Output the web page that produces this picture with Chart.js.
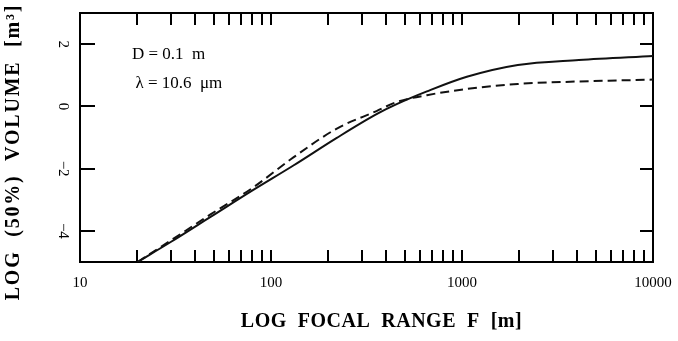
<!DOCTYPE html>
<html>
<head>
<meta charset="utf-8">
<style>
  html, body { margin: 0; padding: 0; background: #ffffff; }
  #wrap { width: 678px; height: 341px; }
</style>
<script src="https://cdn.jsdelivr.net/npm/chart.js@4.4.1/dist/chart.umd.min.js"></script>
</head>
<body>
<div id="wrap"><canvas id="chart" width="678" height="341"></canvas></div>
<script>
// Focal range F [m] and log10 of the 50% volume [m^3] for the two curves
const focalRange      = [20, 30, 48, 80, 131, 220, 357, 455, 655, 1060, 1960, 4090, 10000];
const logVolumeSolid  = [-5.0, -4.35, -3.56, -2.70, -1.90, -1.02, -0.25, 0.07, 0.48, 0.95, 1.33, 1.49, 1.62];
const logVolumeDashed = [-5.0, -4.30, -3.48, -2.62, -1.64, -0.72, -0.15, 0.14, 0.36, 0.56, 0.72, 0.80, 0.86];

// Axis ticks
const xTickValues = [10, 20, 30, 40, 50, 60, 70, 80, 90,
                     100, 200, 300, 400, 500, 600, 700, 800, 900,
                     1000, 2000, 3000, 4000, 5000, 6000, 7000, 8000, 9000, 10000];
const xTickLabels = ['10', '100', '1000', '10000'];
const yTickValues = [-4, -2, 0, 2];

// Axis titles
const xTitle = 'LOG  FOCAL  RANGE  F  [m]';
const yTitle = 'LOG  (50%)  VOLUME  [m\u00B3]';

// Parameter notes placed in data coordinates (F, log volume)
const noteTexts = ['D = 0.1  m', '\u03BB = 10.6  \u03BCm'];
const noteF     = [18.7, 19.5];
const noteV     = [1.65, 0.73];

const serif = "'Liberation Serif', 'Times New Roman', serif";

function fixBox(w, h) {
  return s => {
    if (w !== null) s.width = w;
    if (h !== null) s.height = h;
    s.paddingLeft = 0; s.paddingRight = 0; s.paddingTop = 0; s.paddingBottom = 0;
  };
}
function useTicks(values) {
  return s => { s.ticks = values.map(v => ({ value: v })); };
}

const gridStyle = (len) => ({
  drawOnChartArea: false,
  drawTicks: true,
  tickLength: len,
  color: '#000',
  lineWidth: 2
});
const borderStyle = { display: true, color: '#000', width: 2 };

// Parameter notes inside the plot and the letter-spaced axis titles
const textPlugin = {
  id: 'texts',
  afterDatasetsDraw(chart) {
    const { ctx, scales, chartArea } = chart;
    ctx.save();
    ctx.font = '17px ' + serif;
    ctx.fillStyle = '#000';
    ctx.textBaseline = 'middle';
    ctx.textAlign = 'left';
    noteTexts.forEach((t, i) => {
      ctx.fillText(t, scales.x.getPixelForValue(noteF[i]), scales.y.getPixelForValue(noteV[i]));
    });
    ctx.restore();

    // horizontal axis title
    ctx.save();
    ctx.font = 'bold 20px ' + serif;
    ctx.fillStyle = '#000';
    ctx.textBaseline = 'middle';
    ctx.textAlign = 'center';
    if ('letterSpacing' in ctx) ctx.letterSpacing = '0.5px';
    ctx.fillText(xTitle, (chartArea.left + chartArea.right) / 2 + 15, scales.x.bottom - 19);
    ctx.restore();

    // vertical axis title
    ctx.save();
    ctx.font = 'bold 20px ' + serif;
    ctx.fillStyle = '#000';
    ctx.textBaseline = 'middle';
    ctx.textAlign = 'center';
    if ('letterSpacing' in ctx) ctx.letterSpacing = '1.8px';
    ctx.translate(scales.y.left + 14, 152);
    ctx.rotate(-Math.PI / 2);
    ctx.fillText(yTitle, 0, 0);
    ctx.restore();
  }
};

new Chart(document.getElementById('chart'), {
  type: 'line',
  data: {
    datasets: [
      {
        data: focalRange.map((f, i) => ({ x: f, y: logVolumeSolid[i] })),
        borderColor: '#111',
        borderWidth: 2,
        pointRadius: 0,
        cubicInterpolationMode: 'monotone',
        fill: false,
        xAxisID: 'x',
        yAxisID: 'y'
      },
      {
        data: focalRange.map((f, i) => ({ x: f, y: logVolumeDashed[i] })),
        borderColor: '#111',
        borderWidth: 2,
        borderDash: [9, 5],
        pointRadius: 0,
        cubicInterpolationMode: 'monotone',
        fill: false,
        xAxisID: 'x',
        yAxisID: 'y'
      }
    ]
  },
  options: {
    responsive: false,
    animation: false,
    layout: { padding: 0 },
    plugins: { legend: { display: false }, tooltip: { enabled: false } },
    scales: {
      x: {
        type: 'logarithmic',
        position: 'bottom',
        min: 10, max: 10000,
        afterBuildTicks: useTicks(xTickValues),
        afterFit: fixBox(null, 79),
        grid: gridStyle(-12),
        border: borderStyle,
        ticks: {
          autoSkip: false, minRotation: 0, maxRotation: 0, padding: 24,
          color: '#000',
          font: { family: serif, size: 15 },
          callback: v => (xTickLabels.includes(String(v)) ? String(v) : '')
        }
      },
      xTop: {
        type: 'logarithmic',
        position: 'top',
        min: 10, max: 10000,
        afterBuildTicks: useTicks(xTickValues),
        afterFit: fixBox(null, 13),
        grid: gridStyle(-12),
        border: borderStyle,
        ticks: { display: false }
      },
      y: {
        type: 'linear',
        position: 'left',
        min: -5, max: 3,
        afterBuildTicks: useTicks(yTickValues),
        afterFit: fixBox(80, null),
        grid: gridStyle(-15),
        border: borderStyle,
        ticks: {
          autoSkip: false, minRotation: -90, maxRotation: -90,
          crossAlign: 'center', padding: 24,
          color: '#000',
          font: { family: serif, size: 15 },
          callback: v => (v < 0 ? '\u2212' + Math.abs(v) : String(v))
        }
      },
      yRight: {
        type: 'linear',
        position: 'right',
        min: -5, max: 3,
        afterBuildTicks: useTicks(yTickValues),
        afterFit: fixBox(25, null),
        grid: gridStyle(-13),
        border: borderStyle,
        ticks: { display: false }
      }
    }
  },
  plugins: [textPlugin]
});
</script>
</body>
</html>
